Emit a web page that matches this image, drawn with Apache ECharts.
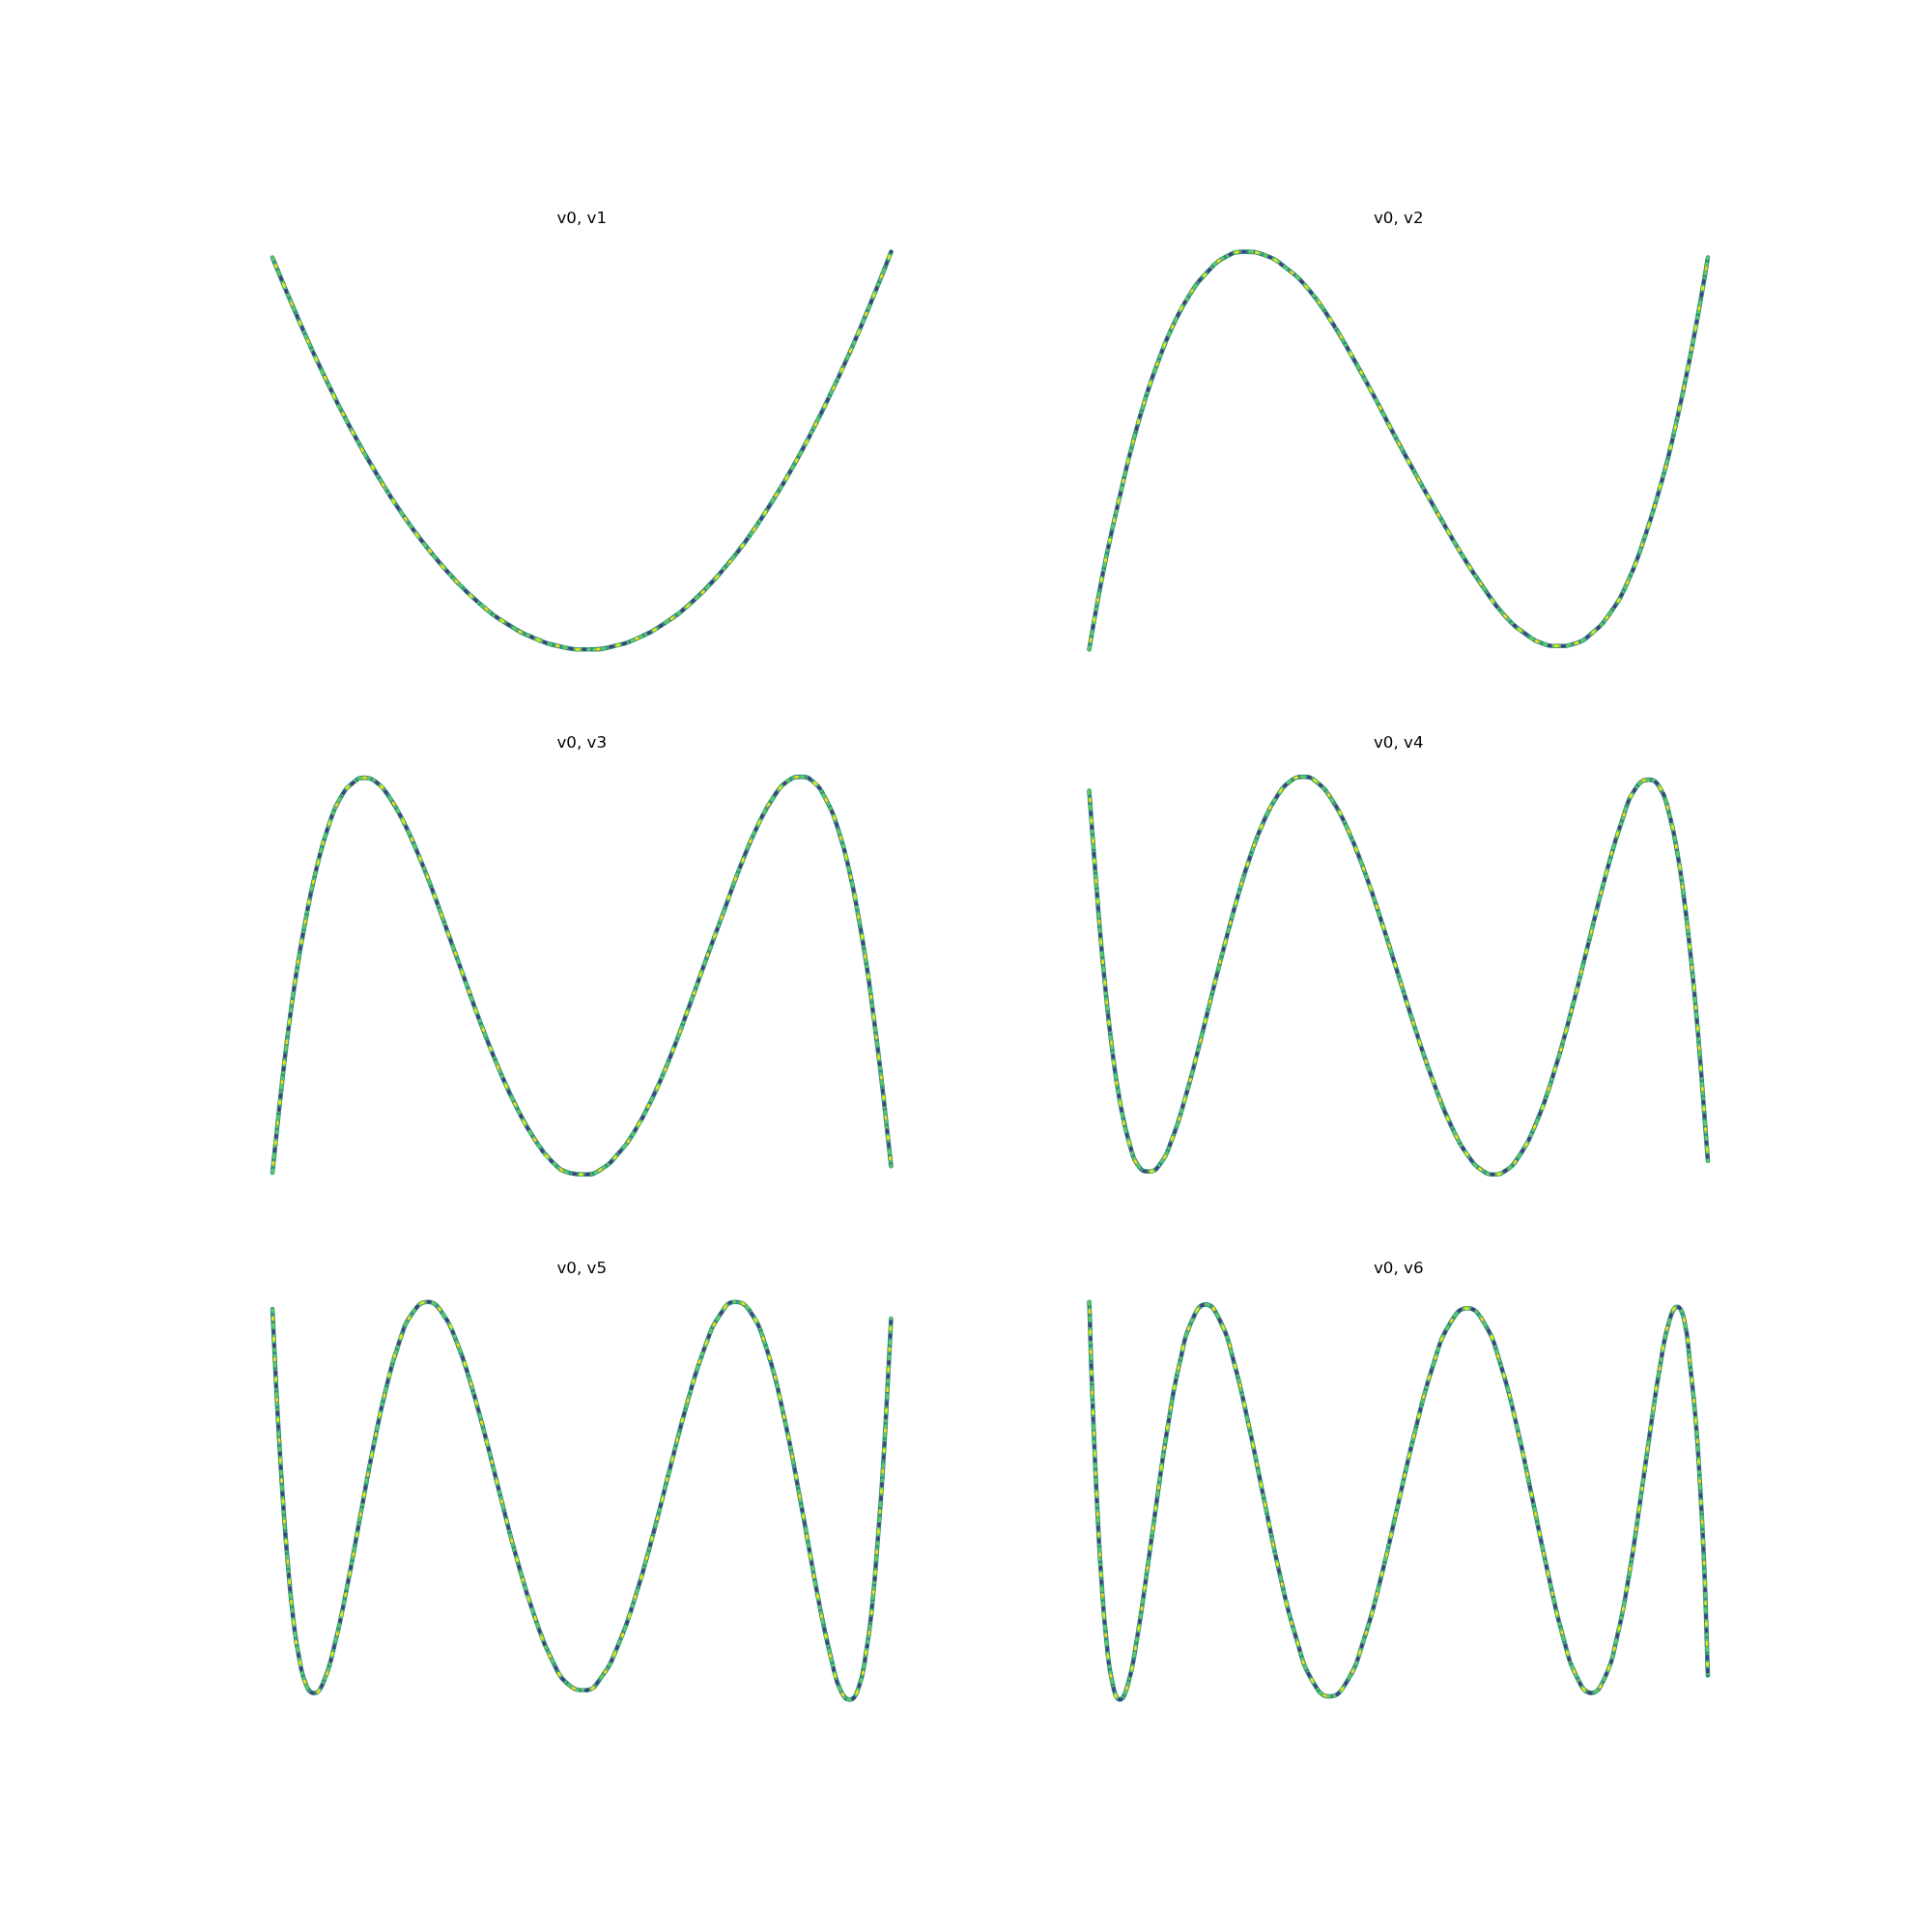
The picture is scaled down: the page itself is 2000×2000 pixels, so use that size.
<!DOCTYPE html>
<html><head><meta charset="utf-8">
<script src="https://cdn.jsdelivr.net/npm/echarts@6/dist/echarts.min.js"></script>
<style>html,body{margin:0;padding:0;background:#fff}#c{width:2000px;height:2000px}</style>
</head><body><div id="c"></div>
<script>
// Panel titles
const titles = ['v0, v1', 'v0, v2', 'v0, v3', 'v0, v4', 'v0, v5', 'v0, v6'];

// v0 (x) and vk (y) values, one pair of arrays per panel
const x1 = [-1,-0.915,-0.830,-0.746,-0.661,-0.576,-0.491,-0.406,-0.322,-0.237,-0.152,-0.067,0.018,0.102,0.187,0.272,0.357,0.442,0.527,0.611,0.696,0.781,0.866,0.951,1];
const y1 = [0.971,0.657,0.368,0.109,-0.122,-0.328,-0.504,-0.655,-0.778,-0.874,-0.942,-0.984,-0.998,-0.982,-0.937,-0.862,-0.759,-0.624,-0.461,-0.266,-0.043,0.211,0.493,0.807,1];

const x2 = [-1,-0.972,-0.943,-0.901,-0.859,-0.816,-0.774,-0.731,-0.675,-0.618,-0.562,-0.498,-0.435,-0.364,-0.293,-0.223,-0.152,-0.081,-0.011,0.060,0.131,0.201,0.272,0.343,0.413,0.470,0.512,0.569,0.625,0.682,0.739,0.795,0.852,0.880,0.921,0.951,0.976,1];
const y2 = [-0.997,-0.749,-0.519,-0.228,0.040,0.274,0.461,0.623,0.785,0.898,0.971,1,0.984,0.919,0.815,0.665,0.480,0.280,0.072,-0.130,-0.325,-0.511,-0.681,-0.827,-0.922,-0.969,-0.980,-0.968,-0.916,-0.819,-0.665,-0.438,-0.147,0.020,0.307,0.540,0.751,0.971];

const x3 = [-1,-0.979,-0.951,-0.922,-0.894,-0.859,-0.816,-0.774,-0.739,-0.706,-0.668,-0.625,-0.576,-0.534,-0.491,-0.435,-0.378,-0.322,-0.265,-0.208,-0.152,-0.095,-0.039,0.011,0.060,0.117,0.173,0.230,0.286,0.343,0.399,0.456,0.512,0.569,0.625,0.668,0.707,0.746,0.788,0.830,0.866,0.894,0.922,0.943,0.965,0.986,1];
const y3 = [-0.989,-0.68,-0.30,0.02,0.27,0.53,0.765,0.91,0.97,0.995,0.977,0.904,0.773,0.63,0.464,0.226,-0.02,-0.258,-0.478,-0.669,-0.822,-0.935,-0.99,-0.998,-0.975,-0.895,-0.775,-0.608,-0.408,-0.172,0.07,0.31,0.547,0.755,0.91,0.98,1.0,0.978,0.89,0.73,0.52,0.30,0.04,-0.20,-0.47,-0.76,-0.956];

const x4 = [-1,-0.989,-0.977,-0.965,-0.951,-0.929,-0.901,-0.866,-0.837,-0.809,-0.774,-0.731,-0.689,-0.647,-0.604,-0.562,-0.519,-0.477,-0.435,-0.392,-0.350,-0.307,-0.265,-0.216,-0.166,-0.110,-0.053,0.004,0.060,0.117,0.173,0.230,0.272,0.307,0.343,0.385,0.442,0.498,0.555,0.611,0.668,0.724,0.767,0.809,0.845,0.873,0.901,0.922,0.943,0.962,0.979,1];
const y4 = [0.93,0.70,0.46,0.225,-0.01,-0.33,-0.63,-0.866,-0.965,-0.985,-0.955,-0.818,-0.612,-0.368,-0.10,0.156,0.401,0.610,0.778,0.903,0.977,1.0,0.974,0.886,0.741,0.524,0.262,-0.02,-0.296,-0.553,-0.764,-0.917,-0.981,-1.0,-0.984,-0.919,-0.753,-0.51,-0.199,0.144,0.494,0.787,0.942,0.985,0.945,0.826,0.62,0.40,0.12,-0.18,-0.50,-0.932];

const x5 = [-1,-0.993,-0.986,-0.977,-0.966,-0.951,-0.932,-0.912,-0.890,-0.866,-0.837,-0.802,-0.760,-0.717,-0.675,-0.633,-0.590,-0.548,-0.498,-0.449,-0.406,-0.364,-0.314,-0.265,-0.208,-0.152,-0.095,-0.039,0.011,0.060,0.117,0.173,0.230,0.286,0.343,0.399,0.449,0.495,0.541,0.597,0.654,0.710,0.767,0.809,0.837,0.866,0.894,0.919,0.939,0.958,0.973,0.987,1];
const y5 = [0.964,0.74,0.52,0.275,0.005,-0.30,-0.60,-0.80,-0.925,-0.963,-0.915,-0.74,-0.44,-0.083,0.263,0.563,0.798,0.942,1.0,0.94,0.805,0.617,0.339,0.038,-0.30,-0.58,-0.80,-0.925,-0.948,-0.89,-0.725,-0.48,-0.17,0.169,0.505,0.778,0.94,1.0,0.959,0.767,0.422,-0.024,-0.509,-0.808,-0.95,-0.995,-0.94,-0.76,-0.52,-0.17,0.15,0.53,0.916];

const x6 = [-1,-0.998,-0.994,-0.986,-0.975,-0.961,-0.944,-0.924,-0.901,-0.875,-0.847,-0.816,-0.782,-0.746,-0.707,-0.666,-0.623,-0.579,-0.532,-0.484,-0.434,-0.383,-0.330,-0.277,-0.2225,-0.167,-0.112,-0.056,0,0.056,0.112,0.167,0.2225,0.277,0.330,0.383,0.434,0.484,0.532,0.579,0.623,0.666,0.707,0.746,0.782,0.816,0.847,0.875,0.901,0.924,0.943,0.961,0.975,0.986,0.994,0.998,1];
const y6 = [0.997,0.921,0.705,0.383,0.001,-0.381,-0.704,-0.919,-0.995,-0.920,-0.705,-0.385,-0.006,0.373,0.694,0.909,0.984,0.909,0.695,0.378,0.002,-0.373,-0.691,-0.905,-0.979,-0.905,-0.694,-0.380,-0.007,0.365,0.680,0.890,0.965,0.891,0.683,0.370,0.001,-0.368,-0.681,-0.890,-0.962,-0.888,-0.678,-0.365,0.006,0.377,0.689,0.900,0.972,0.903,0.673,0.398,0.074,-0.250,-0.574,-0.785,-0.874];

const xs = [x1, x2, x3, x4, x5, x6];
const ys = [y1, y2, y3, y4, y5, y6];

// layout (3x2 subplot grid)
const W = 704.5, H = 452.9;
const lefts = [250, 1095.5];
const tops = [240, 783.5, 1327.1];

const padMin = v => v.min - 0.05 * (v.max - v.min);
const padMax = v => v.max + 0.05 * (v.max - v.min);

const grid = [], xAxis = [], yAxis = [], series = [], graphic = [];
const layers = [
  { color: '#2c8b82', width: 4.6, type: 'solid', offset: 0 },
  { color: '#5cc863', width: 3.4, type: [3, 5], offset: 0 },
  { color: '#433e85', width: 3.4, type: [2, 12], offset: 5 },
  { color: '#e3e418', width: 3, type: [2, 19], offset: 12 }
];

for (let i = 0; i < 6; i++) {
  const col = i % 2, row = Math.floor(i / 2);
  grid.push({ left: lefts[col], top: tops[row], width: W, height: H, containLabel: false });
  xAxis.push({ gridIndex: i, type: 'value', min: padMin, max: padMax, show: false, splitLine: { show: false } });
  yAxis.push({ gridIndex: i, type: 'value', min: padMin, max: padMax, show: false, splitLine: { show: false } });
  const data = xs[i].map((x, k) => [x, ys[i][k]]);
  layers.forEach(L => {
    series.push({
      type: 'line', xAxisIndex: i, yAxisIndex: i, data: data,
      smooth: 0.5, showSymbol: false, symbol: 'none', clip: false, silent: true,
      lineStyle: { color: L.color, width: L.width, type: L.type, dashOffset: L.offset, cap: 'round' }
    });
  });
  graphic.push({
    type: 'text', x: lefts[col] + W / 2, y: tops[row] - 13.5,
    style: { text: titles[i], font: '16.7px "DejaVu Sans"', fill: '#000', textAlign: 'center', textVerticalAlign: 'middle' }
  });
}

const chart = echarts.init(document.getElementById('c'), null, { renderer: 'canvas' });
chart.setOption({
  animation: false,
  backgroundColor: '#ffffff',
  grid, xAxis, yAxis, series, graphic
});
</script>
</body></html>
